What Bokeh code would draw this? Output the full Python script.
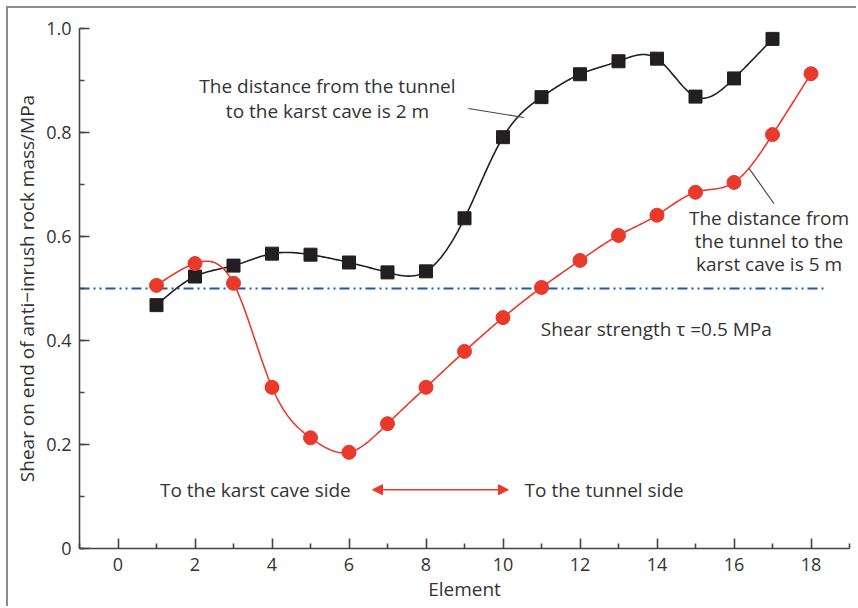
import numpy as np
from bokeh.plotting import figure
from bokeh.models import FixedTicker, Arrow, NormalHead
from bokeh.core.properties import value
from bokeh.embed import file_html
from bokeh.resources import INLINE

# ---- data ----
elem_2m = [1, 2, 3, 4, 5, 6, 7, 8, 9, 10, 11, 12, 13, 14, 15, 16, 17]
shear_2m = [0.468, 0.523, 0.544, 0.567, 0.565, 0.550, 0.531, 0.533, 0.635,
            0.791, 0.868, 0.912, 0.937, 0.942, 0.869, 0.904, 0.980]
elem_5m = [1, 2, 3, 4, 5, 6, 7, 8, 9, 10, 11, 12, 13, 14, 15, 16, 17, 18]
shear_5m = [0.506, 0.548, 0.510, 0.310, 0.213, 0.185, 0.240, 0.310, 0.379,
            0.444, 0.502, 0.554, 0.602, 0.641, 0.685, 0.704, 0.796, 0.913]
strength = 0.5
x_ticks = [0, 2, 4, 6, 8, 10, 12, 14, 16, 18]
y_ticks = [0, 0.2, 0.4, 0.6, 0.8, 1.0]
y_tick_labels = ["0", "0.2", "0.4", "0.6", "0.8", "1.0"]
label_2m = ["The distance from the tunnel", "to the karst cave is 2 m"]
label_5m = ["The distance from", "the tunnel to the", "karst cave is 5 m"]
label_tau = "Shear strength \u03c4 =0.5 MPa"
label_cave = "To the karst cave side"
label_tunnel = "To the tunnel side"

FONT = "Open Sans"
FS = "19px"
TXT = "#333333"
RED = "#e8392a"
BLK = "#231f20"
BLUE = "#1f5aa8"


def natural_spline(xs, ys, n=600):
    x = np.asarray(xs, float)
    y = np.asarray(ys, float)
    m = len(x)
    h = np.diff(x)
    A = np.zeros((m, m))
    b = np.zeros(m)
    A[0, 0] = A[-1, -1] = 1.0
    for i in range(1, m - 1):
        A[i, i - 1] = h[i - 1]
        A[i, i] = 2 * (h[i - 1] + h[i])
        A[i, i + 1] = h[i]
        b[i] = 6 * ((y[i + 1] - y[i]) / h[i] - (y[i] - y[i - 1]) / h[i - 1])
    M = np.linalg.solve(A, b)
    xx = np.linspace(x[0], x[-1], n)
    idx = np.clip(np.searchsorted(x, xx) - 1, 0, m - 2)
    x0, x1 = x[idx], x[idx + 1]
    hh = x1 - x0
    t0 = x1 - xx
    t1 = xx - x0
    yy = (M[idx] * t0 ** 3 / (6 * hh) + M[idx + 1] * t1 ** 3 / (6 * hh)
          + (y[idx] / hh - M[idx] * hh / 6) * t0
          + (y[idx + 1] / hh - M[idx + 1] * hh / 6) * t1)
    return xx, yy


p = figure(width=850, height=600, x_range=(-1, 19), y_range=(0, 1.0),
           output_backend="svg", toolbar_location=None,
           min_border_left=71, min_border_top=20, min_border_right=9,
           min_border_bottom=60)
p.styles = {"margin-left": "6px", "margin-top": "6px",
            "border-left": "2px solid #8c8c8c", "border-top": "2px solid #8c8c8c"}
p.outline_line_color = None
p.xgrid.visible = False
p.ygrid.visible = False

for ax in (p.xaxis[0], p.yaxis[0]):
    ax.axis_line_color = "#444444"
    ax.axis_line_width = 1.6
    ax.major_tick_line_color = "#444444"
    ax.minor_tick_line_color = "#444444"
    ax.major_tick_line_width = 1.6
    ax.minor_tick_line_width = 1.6
    ax.major_tick_in = 10
    ax.major_tick_out = 0
    ax.minor_tick_in = 5
    ax.minor_tick_out = 0
    ax.major_label_text_font = FONT
    ax.major_label_text_font_size = "18px"
    ax.major_label_text_color = TXT
    ax.axis_label_text_font = FONT
    ax.axis_label_text_font_size = FS
    ax.axis_label_text_font_style = "normal"
    ax.axis_label_text_color = TXT

p.xaxis.ticker = FixedTicker(ticks=x_ticks, minor_ticks=list(range(-1, 20, 2)))
p.yaxis.ticker = FixedTicker(ticks=y_ticks,
                             minor_ticks=[round(0.1 * i, 1) for i in range(11)])
p.yaxis.major_label_overrides = dict(zip(y_ticks, y_tick_labels))
p.xaxis.axis_label = "Element"
p.yaxis.axis_label = "Shear on end of anti\u2212inrush rock mass/MPa"
p.xaxis.major_label_standoff = 9
p.yaxis.major_label_standoff = 8
p.xaxis.axis_label_standoff = 2
p.yaxis.axis_label_standoff = 3

# shear strength reference line
p.line([-1, 18.4], [strength, strength], line_color=BLUE, line_width=2,
       line_dash="10 4 2 4 2 4")

# curves
sx, sy = natural_spline(elem_2m, shear_2m)
p.line(sx, sy, line_color=BLK, line_width=1.6)
rx, ry = natural_spline(elem_5m, shear_5m)
p.line(rx, ry, line_color=RED, line_width=1.6)

p.scatter(elem_2m, shear_2m, marker="square", size=13, fill_color=BLK,
          line_color=BLK)
p.scatter(elem_5m, shear_5m, marker="circle", size=14, fill_color=RED,
          line_color=RED)

# leader lines
p.line([9.10, 10.54], [0.846, 0.829], line_color="#444444", line_width=1.1)
p.line([16.39, 17.04], [0.731, 0.663], line_color="#444444", line_width=1.1)

# annotations
p.text(x=[5.44, 5.44], y=[0.890, 0.842], text=label_2m, text_align="center",
       text_baseline="middle", text_font=value(FONT), text_font_size=FS,
       text_color=TXT)
p.text(x=[16.91] * 3, y=[0.6365, 0.592, 0.547], text=label_5m,
       text_align="center", text_baseline="middle", text_font=value(FONT),
       text_font_size=FS, text_color=TXT)
p.text(x=[10.98], y=[0.423], text=[label_tau], text_align="left",
       text_baseline="middle", text_font=value(FONT), text_font_size=FS,
       text_color=TXT)
p.text(x=[1.09, 10.56], y=[0.113, 0.113], text=[label_cave, label_tunnel],
       text_align="left", text_baseline="middle", text_font=value(FONT),
       text_font_size=FS, text_color=TXT)

p.add_layout(Arrow(x_start=6.61, y_start=0.113, x_end=10.14, y_end=0.113,
                   line_color=RED, line_width=1.5,
                   start=NormalHead(size=10, fill_color=RED, line_color=RED),
                   end=NormalHead(size=10, fill_color=RED, line_color=RED)))

open("out.html", "w").write(file_html(p, INLINE))
